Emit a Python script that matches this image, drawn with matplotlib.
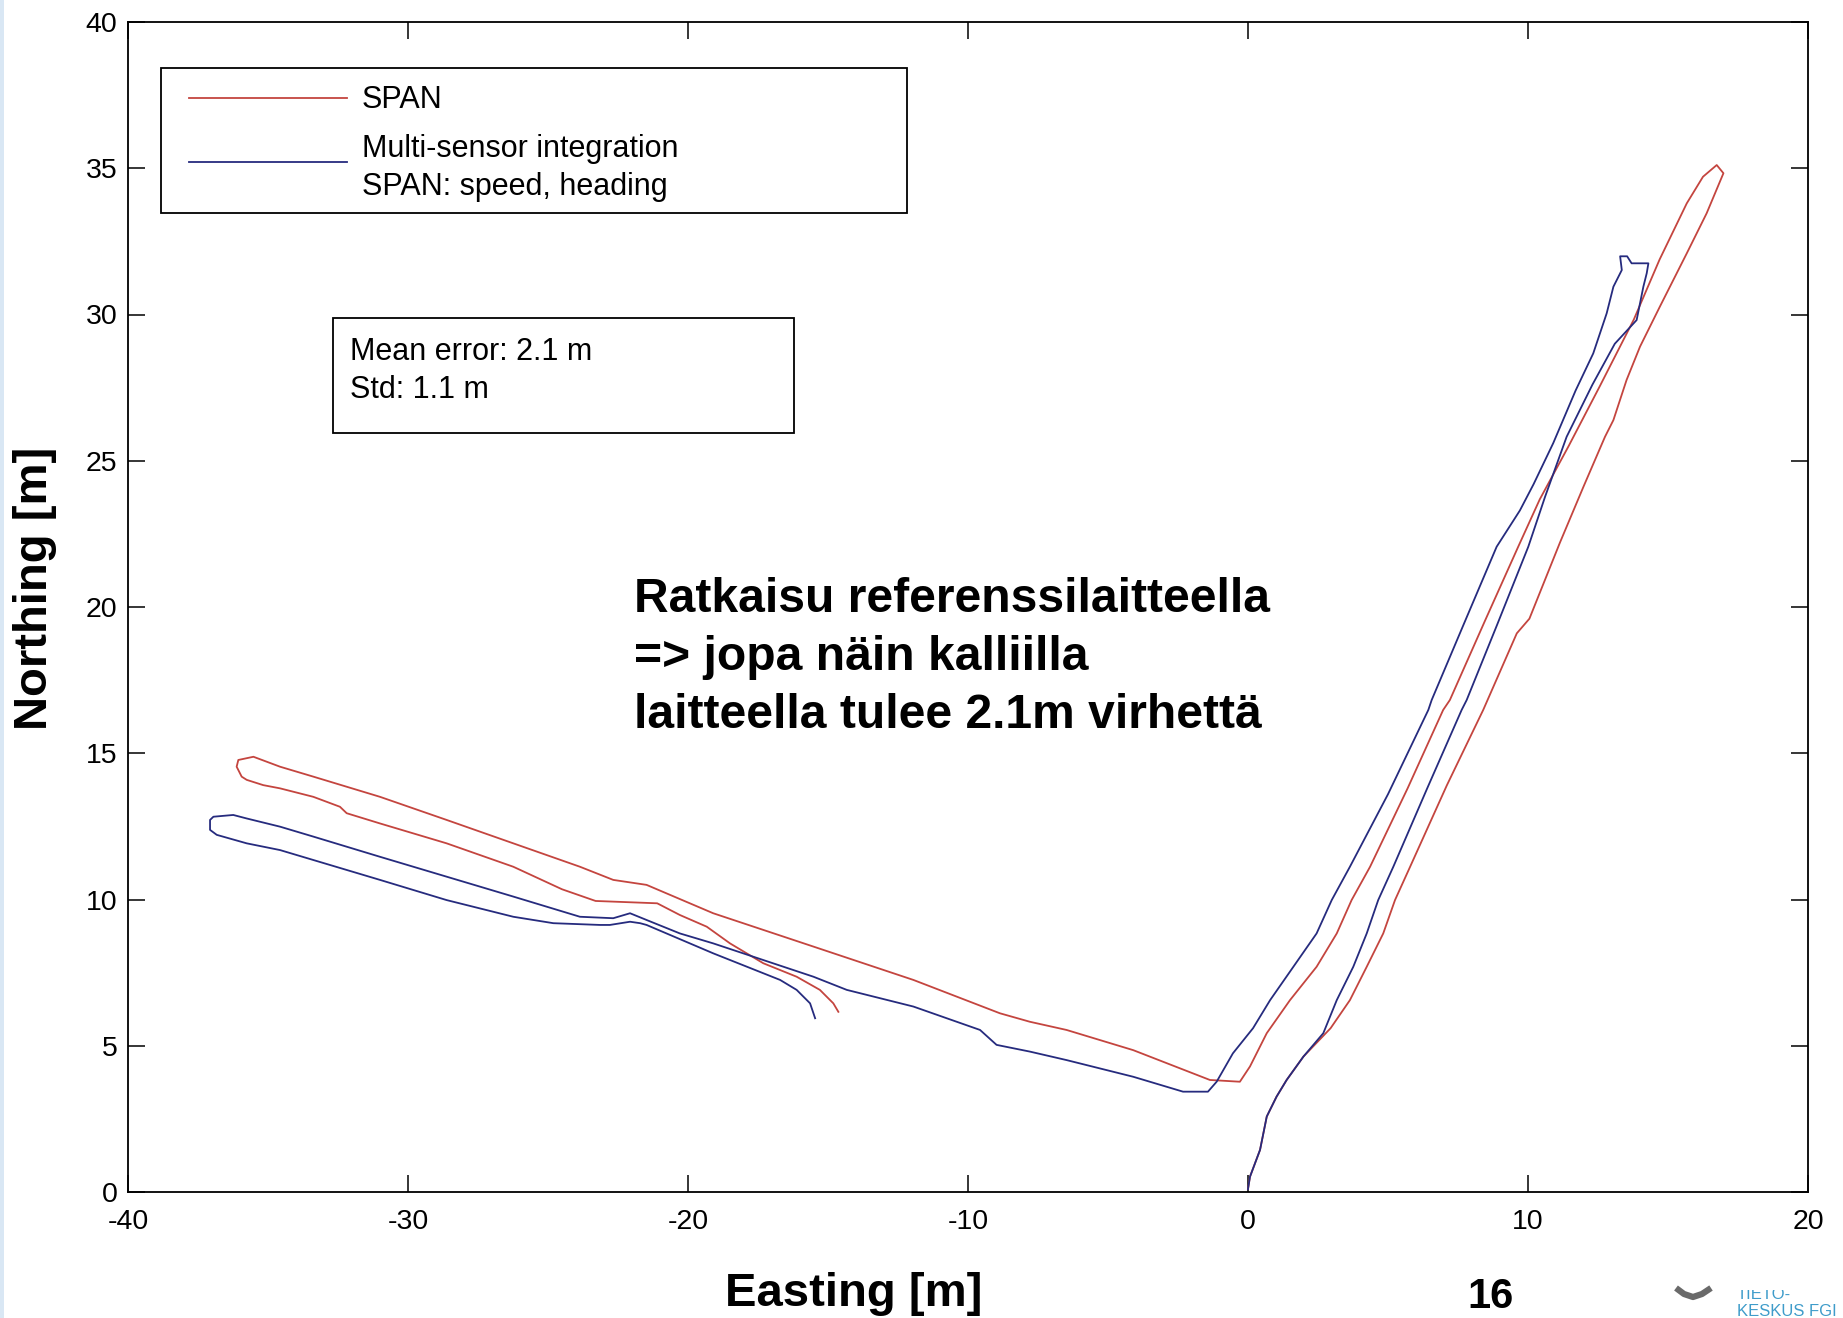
import matplotlib
matplotlib.use("Agg")
import matplotlib.pyplot as plt
from matplotlib.patches import Rectangle
from matplotlib.lines import Line2D
from matplotlib.transforms import Bbox, TransformedBbox

plt.rcParams['font.family'] = ['Liberation Sans', 'DejaVu Sans']

# ---- trajectory data (Easting / Northing in metres) ----
span_east = [
    0.00, 0.07, 0.43, 0.67, 1.02, 1.38, 1.98, 2.40, 2.95, 3.64, 4.24, 4.83, 5.25, 5.79,
    7.10, 8.40, 9.60, 10.05, 11.14, 11.98, 12.75, 13.05, 13.52, 14.00, 14.71, 15.67,
    16.38, 16.98, 16.74, 16.25, 15.67, 14.70, 13.78, 12.56, 11.45, 10.42, 9.65, 8.45,
    7.21, 6.97, 5.70, 4.36, 3.70, 3.17, 2.45, 1.50, 0.67, 0.07, -0.29, -1.36, -4.10,
    -6.48, -7.79, -8.86, -11.95, -15.52, -19.10, -21.48, -22.67, -23.86, -26.24,
    -28.62, -31.00, -33.38, -34.57, -35.52, -36.06, -36.12, -35.94, -35.76, -35.17,
    -34.57, -33.38, -32.43, -32.19, -31.00, -28.62, -26.24, -24.50, -23.30, -21.10,
    -20.29, -19.33, -18.50, -17.31, -16.12, -15.29, -14.81, -14.63,
]
span_north = [
    0.10, 0.52, 1.44, 2.58, 3.26, 3.83, 4.63, 5.05, 5.60, 6.56, 7.70, 8.84, 9.98, 11.12,
    13.90, 16.48, 19.10, 19.60, 22.20, 24.11, 25.82, 26.39, 27.76, 28.90, 30.27, 32.09,
    33.46, 34.83, 35.11, 34.71, 33.80, 31.88, 29.83, 27.54, 25.50, 23.68, 22.06, 19.50,
    16.82, 16.48, 13.80, 11.12, 9.98, 8.84, 7.70, 6.56, 5.43, 4.29, 3.77, 3.83, 4.85,
    5.54, 5.82, 6.11, 7.25, 8.39, 9.53, 10.50, 10.67, 11.12, 11.92,
    12.72, 13.51, 14.20, 14.54, 14.88, 14.77, 14.54, 14.20, 14.09, 13.91,
    13.80, 13.51, 13.17, 12.95, 12.60, 11.92, 11.12, 10.35, 9.95, 9.87,
    9.47, 9.07, 8.50, 7.82, 7.36, 6.91, 6.45, 6.16,
]

msi_east = [
    0.00, 0.07, 0.43, 0.67, 1.02, 1.38, 1.98, 2.69, 3.17, 3.76, 4.24, 4.65, 5.19, 6.40,
    7.63, 7.81, 8.90, 10.01, 10.61, 11.38, 12.30, 13.10, 13.88, 14.12, 14.24, 14.30,
    13.70, 13.54, 13.29, 13.35, 13.05, 12.81, 12.33, 11.70, 10.90, 10.20, 9.71, 8.88,
    7.70, 6.56, 6.44, 5.00, 3.64, 2.99, 2.45, 1.62, 0.79, 0.18, -0.54, -1.12, -1.43,
    -2.32, -4.10, -6.48, -7.79, -8.98, -9.57, -11.95, -14.33, -15.52, -17.31, -19.10,
    -20.29, -21.48, -22.07, -22.67, -23.86, -26.24, -28.62, -31.00, -33.38, -34.57,
    -35.76, -36.24, -36.95, -37.07, -37.07, -36.83, -35.76, -34.57, -33.38, -31.00,
    -28.62, -26.24, -24.81, -23.14, -22.79, -22.07, -21.71, -21.48, -19.10, -16.71,
    -16.12, -15.64, -15.46,
]
msi_north = [
    0.10, 0.52, 1.44, 2.58, 3.26, 3.83, 4.63, 5.43, 6.56, 7.70, 8.84, 9.98, 11.12, 13.80,
    16.48, 16.82, 19.40, 22.06, 23.77, 25.82, 27.60, 29.00, 29.81, 30.95, 31.41, 31.75,
    31.75, 31.99, 31.99, 31.52, 30.95, 30.04, 28.67, 27.40, 25.60, 24.20, 23.30, 22.06,
    19.40, 16.82, 16.48, 13.60, 11.12, 9.98, 8.84, 7.70, 6.56, 5.60, 4.74, 3.77, 3.43,
    3.43, 3.94, 4.51, 4.80, 5.03, 5.54, 6.34, 6.91, 7.36, 7.93, 8.50,
    8.84, 9.30, 9.53, 9.36, 9.41, 10.10, 10.78, 11.46, 12.15, 12.49,
    12.77, 12.89, 12.83, 12.72, 12.38, 12.21, 11.92, 11.69, 11.35, 10.67,
    9.98, 9.41, 9.19, 9.13, 9.13, 9.24, 9.19, 9.13, 8.16, 7.25,
    6.91, 6.45, 5.94,
]

x_ticks = [-40, -30, -20, -10, 0, 10, 20]
y_ticks = [0, 5, 10, 15, 20, 25, 30, 35, 40]

legend_labels = ["SPAN", "Multi-sensor integration", "SPAN: speed, heading"]
stats_lines = ["Mean error: 2.1 m", "Std: 1.1 m"]
note_lines = ["Ratkaisu referenssilaitteella",
              "=> jopa näin kalliilla",
              "laitteella tulee 2.1m virhettä"]

RED = "#c4453f"
BLUE = "#262b7e"

W, H = 1843, 1318
fig = plt.figure(figsize=(W / 100, H / 100), dpi=100)
fig.patch.set_facecolor("white")

ax_l, ax_r, ax_t, ax_b = 128, 1808, 22, 1192
ax = fig.add_axes([ax_l / W, 1 - ax_b / H, (ax_r - ax_l) / W, (ax_b - ax_t) / H])

ax.plot(span_east, span_north, color=RED, lw=1.3, zorder=3)
ax.plot(msi_east, msi_north, color=BLUE, lw=1.3, zorder=4)

ax.set_xlim(-40, 20)
ax.set_ylim(0, 40)
ax.set_xticks(x_ticks)
ax.set_yticks(y_ticks)
ax.set_xticklabels([str(v) for v in x_ticks])
ax.set_yticklabels([str(v) for v in y_ticks])
ax.tick_params(direction="in", length=12, width=1.1, top=True, right=True,
               labelsize=20.5, colors="black")
ax.tick_params(axis="y", pad=7.5)
ax.tick_params(axis="x", pad=12)
for s in ax.spines.values():
    s.set_linewidth(1.3)
    s.set_color("black")


def ax_x(px):
    return (px - ax_l) / (ax_r - ax_l)


def ax_y(py):
    return (ax_b - py) / (ax_b - ax_t)


# legend box
ax.add_patch(Rectangle((ax_x(161), ax_y(213)), ax_x(907) - ax_x(161), ax_y(68) - ax_y(213),
                       transform=ax.transAxes, facecolor="white", edgecolor="black",
                       lw=1.3, zorder=6))
ax.add_line(Line2D([ax_x(189), ax_x(347)], [ax_y(97.7), ax_y(97.7)], transform=ax.transAxes,
                   color=RED, lw=1.3, zorder=7))
ax.add_line(Line2D([ax_x(189), ax_x(347)], [ax_y(162.3), ax_y(162.3)], transform=ax.transAxes,
                   color=BLUE, lw=1.3, zorder=7))
for lbl, base in zip(legend_labels, [108.3, 156.7, 195.0]):
    ax.text(ax_x(362), ax_y(base), lbl, transform=ax.transAxes, fontsize=22,
            ha="left", va="baseline", zorder=7)

# statistics box
ax.add_patch(Rectangle((ax_x(333), ax_y(433)), ax_x(794) - ax_x(333), ax_y(318) - ax_y(433),
                       transform=ax.transAxes, facecolor="white", edgecolor="black",
                       lw=1.3, zorder=6))
for lbl, base in zip(stats_lines, [360.0, 398.3]):
    ax.text(ax_x(350), ax_y(base), lbl, transform=ax.transAxes, fontsize=22,
            ha="left", va="baseline", zorder=7)

# annotation
for lbl, base in zip(note_lines, [612.4, 670.0, 727.6]):
    ax.text(ax_x(634), ax_y(base), lbl, transform=ax.transAxes, fontsize=34.6,
            fontweight="bold", ha="left", va="baseline", zorder=7)

# axis labels
ax.set_xlabel("Easting [m]", fontsize=34, fontweight="bold", va="baseline", ha="center")
ax.xaxis.set_label_coords(ax_x(854), ax_y(1306))
ax.set_ylabel("Northing [m]", fontsize=34, fontweight="bold", va="center", ha="center")
ax.yaxis.set_label_coords(ax_x(35), ax_y(588))

# page number
fig.text(1490 / W, 1.5 / H, "16", fontsize=30, fontweight="bold",
         ha="center", va="bottom")

# left page edge
fig.patches.append(Rectangle((0, 0), 4 / W, 1, transform=fig.transFigure,
                             facecolor="#d9e7f4", edgecolor="none", zorder=0))

# logo
TEAL = "#3f9cca"
fig.lines.append(Line2D([1676 / W, 1684 / W, 1693 / W, 1702 / W, 1711 / W],
                        [1 - 1288 / H, 1 - 1294 / H, 1 - 1297 / H, 1 - 1294 / H, 1 - 1288 / H],
                        transform=fig.transFigure, color="#6a6a6a", lw=4.5,
                        solid_capstyle="butt"))
t1 = fig.text(1737 / W, 1 - 1299 / H, "TIETO-", fontsize=12, color=TEAL,
              ha="left", va="baseline")
t1.set_clip_box(TransformedBbox(Bbox([[1700 / W, 0], [1, 1 - 1290 / H]]), fig.transFigure))
t1.set_clip_on(True)
fig.text(1737 / W, 1 - 1316.5 / H, "KESKUS FGI", fontsize=12, color=TEAL,
         ha="left", va="baseline")

fig.savefig("out.png", dpi=100, facecolor="white")
